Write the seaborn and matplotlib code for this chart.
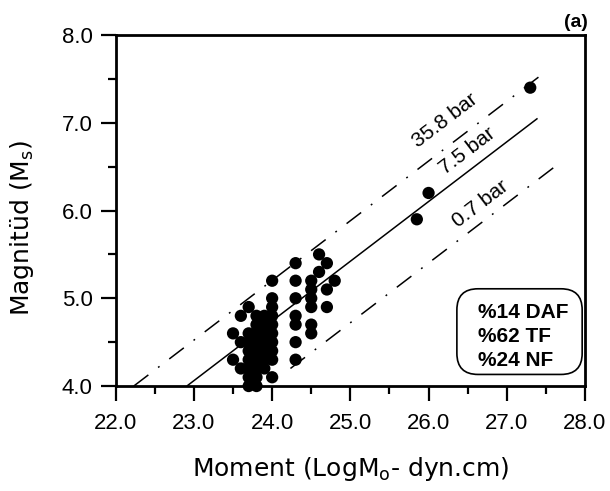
import numpy as np
import pandas as pd
import seaborn as sns
import matplotlib.pyplot as plt
from matplotlib.patches import FancyBboxPatch
from matplotlib.ticker import MultipleLocator, FormatStrFormatter

# Seismic moment (log M0, dyn.cm) and surface-wave magnitude of each event
moment = [
    23.5, 23.5,
    23.6, 23.6, 23.6,
    23.7, 23.7, 23.7, 23.7, 23.7, 23.7, 23.7, 23.7,
    23.8, 23.8, 23.8, 23.8, 23.8, 23.8, 23.8, 23.8, 23.8,
    23.9, 23.9, 23.9, 23.9, 23.9, 23.9, 23.9,
    24.0, 24.0, 24.0, 24.0, 24.0, 24.0, 24.0, 24.0, 24.0, 24.0,
    24.3, 24.3, 24.3, 24.3, 24.3, 24.3, 24.3,
    24.5, 24.5, 24.5, 24.5, 24.5, 24.5,
    24.6, 24.6,
    24.7, 24.7, 24.7,
    24.8,
    25.85, 26.0, 27.3,
]
magnitude = [
    4.6, 4.3,
    4.8, 4.5, 4.2,
    4.9, 4.6, 4.5, 4.4, 4.3, 4.2, 4.1, 4.0,
    4.8, 4.7, 4.6, 4.5, 4.4, 4.3, 4.2, 4.1, 4.0,
    4.8, 4.7, 4.6, 4.5, 4.4, 4.3, 4.2,
    5.2, 5.0, 4.9, 4.8, 4.7, 4.6, 4.5, 4.4, 4.3, 4.1,
    5.4, 5.2, 5.0, 4.8, 4.7, 4.5, 4.3,
    5.2, 5.1, 5.0, 4.9, 4.7, 4.6,
    5.5, 5.3,
    5.4, 5.1, 4.9,
    5.2,
    5.9, 6.2, 7.4,
]

# Constant stress-drop reference lines: log M0 = 1.47 Ms + 17.905 - log10(stress)
stress_drop = [35.8, 7.5, 0.7]
stress_labels = ["35.8 bar", "7.5 bar", "0.7 bar"]
ms_from = [4.0, 4.0, 4.2]
ms_to = [7.55, 7.05, 6.5]
label_moment = [26.38, 26.62, 26.78]

# Faulting-type percentages
fault_text = ["%14 DAF", "%62 TF", "%24 NF"]

x_ticks = [22.0, 23.0, 24.0, 25.0, 26.0, 27.0, 28.0]
y_ticks = [4.0, 5.0, 6.0, 7.0, 8.0]

sns.set_style("ticks")
plt.rcParams["font.family"] = ["Liberation Sans", "DejaVu Sans"]
plt.rcParams["text.color"] = "black"
plt.rcParams["axes.labelcolor"] = "black"
plt.rcParams["xtick.color"] = "black"
plt.rcParams["ytick.color"] = "black"
plt.rcParams["mathtext.fontset"] = "custom"
plt.rcParams["mathtext.rm"] = "DejaVu Sans"
plt.rcParams["mathtext.it"] = "DejaVu Sans:italic"
plt.rcParams["mathtext.bf"] = "DejaVu Sans:bold"

fig = plt.figure(figsize=(6.1, 4.91), dpi=100)
ax = fig.add_axes([0.1897, 0.2138, 0.959 - 0.1897, 0.9287 - 0.2138])
ax.set_xlim(22.0, 28.0)
ax.set_ylim(4.0, 8.0)


def line_moment(ms, sd):
    return 1.47 * np.asarray(ms) + 17.905 - np.log10(sd)


dash_styles = [(12, 8, 1.2, 8), None, (12, 8, 1.2, 8)]
label_offsets = [16, 12, 11]
for sd, a, b, dsh, lab, lx, off in zip(stress_drop, ms_from, ms_to, dash_styles,
                                       stress_labels, label_moment, label_offsets):
    ms = np.array([a, b])
    lm = line_moment(ms, sd)
    if dsh is None:
        ax.plot(lm, ms, color="black", lw=1.1, solid_capstyle="butt")
    else:
        ax.plot(lm, ms, color="black", lw=1.1, dashes=dsh)
    # angle of the line on screen
    p1 = ax.transData.transform((lm[0], ms[0]))
    p2 = ax.transData.transform((lm[1], ms[1]))
    ang = np.degrees(np.arctan2(p2[1] - p1[1], p2[0] - p1[0]))
    ly = (lx - 17.905 + np.log10(sd)) / 1.47
    th = np.radians(ang)
    ax.annotate(lab, xy=(lx, ly), xytext=(-np.sin(th) * off, np.cos(th) * off),
                textcoords="offset points", rotation=ang, rotation_mode="anchor",
                ha="center", va="center", fontsize=15, color="black")

df = pd.DataFrame({"moment": moment, "magnitude": magnitude})
sns.scatterplot(data=df, x="moment", y="magnitude", ax=ax, s=78, color="black",
                edgecolor="none", linewidth=0, zorder=3, clip_on=False)

ax.xaxis.set_major_locator(MultipleLocator(1.0))
ax.xaxis.set_minor_locator(MultipleLocator(0.5))
ax.yaxis.set_major_locator(MultipleLocator(1.0))
ax.yaxis.set_minor_locator(MultipleLocator(0.5))
ax.set_xticks(x_ticks)
ax.set_yticks(y_ticks)
ax.xaxis.set_major_formatter(FormatStrFormatter("%.1f"))
ax.yaxis.set_major_formatter(FormatStrFormatter("%.1f"))
ax.tick_params(which="major", direction="out", length=10.5, width=1.6,
               labelsize=16, color="black", labelcolor="black")
ax.tick_params(axis="x", which="major", pad=9)
ax.tick_params(axis="y", which="major", pad=6)
ax.tick_params(which="minor", direction="out", length=6, width=1.6, color="black")

for sp in ax.spines.values():
    sp.set_visible(True)
    sp.set_linewidth(2.0)
    sp.set_color("black")

ax.set_xlabel("Moment (LogM$_{\\rm o}$- dyn.cm)", fontsize=18, family="DejaVu Sans")
ax.set_ylabel("Magnitüd (M$_{\\rm s}$)", fontsize=18, family="DejaVu Sans")
ax.xaxis.set_label_coords(0.5, -0.235)
ax.xaxis.label.set_va("center")
ax.yaxis.set_label_coords(-0.2, 0.45)
ax.yaxis.label.set_va("center")

box = FancyBboxPatch((0.727, 0.033), 0.267, 0.244, transform=ax.transAxes,
                     boxstyle="round,pad=0,rounding_size=0.045", mutation_aspect=1.337,
                     facecolor="white", edgecolor="black", lw=1.2, zorder=4)
ax.add_patch(box)
for i, t in enumerate(fault_text):
    ax.text(0.772, 0.194 - i * 0.068, t, transform=ax.transAxes, fontsize=15,
            fontweight="bold", ha="left", va="baseline", zorder=5)

fig.text(0.964, 0.945, "(a)", ha="right", va="baseline", fontsize=14, fontweight="bold")

fig.savefig("out.png", dpi=100, facecolor="white")
